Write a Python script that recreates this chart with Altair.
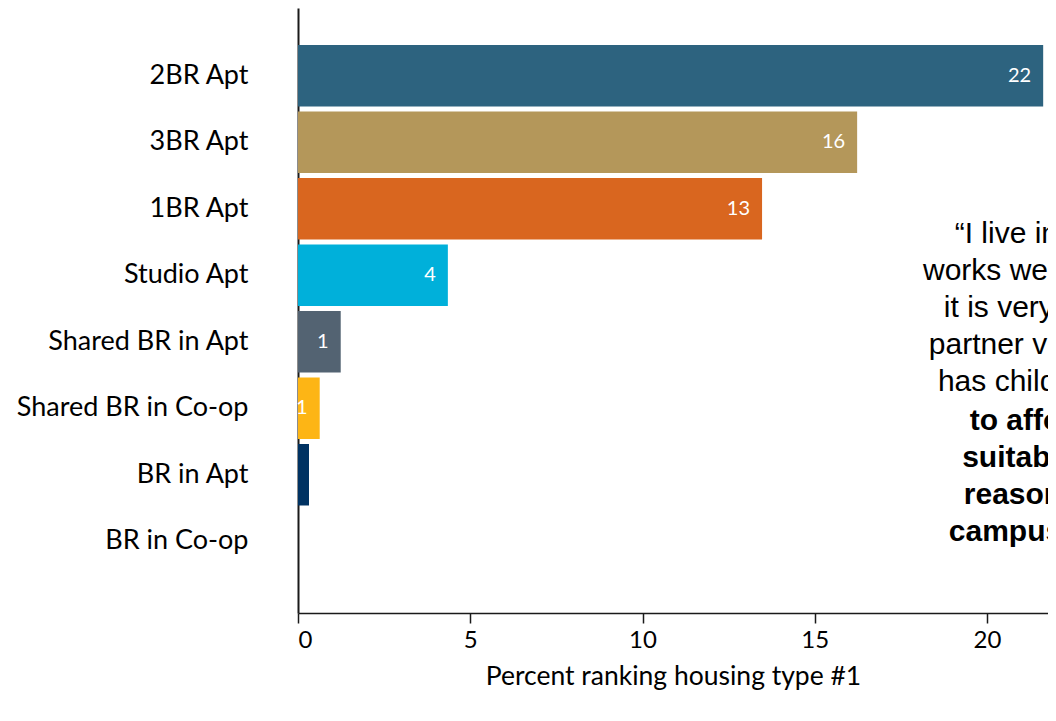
import altair as alt
import pandas as pd

categories = ["2BR Apt", "3BR Apt", "1BR Apt", "Studio Apt", "Shared BR in Apt",
              "Shared BR in Co-op", "BR in Apt", "BR in Co-op"]
values = [21.63, 16.23, 13.47, 4.35, 1.24, 0.63, 0.32, 0.0]
labels = ["22", "16", "13", "4", "1", "1", "", ""]
colors = ["#2D637F", "#B4975A", "#D9661F", "#00B0DA", "#536372", "#FDB515", "#003262", "#DDD5C7"]

quote_regular = ["\u201cI live in a flat", "works well for me,", "it is very pricey",
                 "partner visits and", "has children, so"]
quote_bold = ["to afford a", "suitable for", "reasonable", "campus life.\u201d"]

x_ticks = [0, 5, 10, 15, 20]
x_max = 21.77

df = pd.DataFrame({"cat": categories, "val": values, "lab": labels})

y_enc = alt.Y("cat:N", sort=categories,
              scale=alt.Scale(paddingInner=0.075, paddingOuter=0.586, align=0.474),
              axis=alt.Axis(title=None, ticks=False, labelFont="Lato", labelFontSize=27,
                            labelColor="black", labelPadding=50, labelLimit=400,
                            domainColor="#1a1a1a", domainWidth=2))
x_enc = alt.X("val:Q", scale=alt.Scale(domain=[0, x_max], nice=False, zero=True),
              axis=alt.Axis(title="Percent ranking housing type #1", values=x_ticks,
                            grid=False, tickSize=10, tickColor="#1a1a1a", tickWidth=1.5,
                            domainColor="#1a1a1a", domainWidth=1.5,
                            labelFont="Lato", labelFontSize=24, labelColor="black",
                            labelPadding=5, titleFont="Lato", titleFontSize=26.5,
                            titleFontWeight="normal", titleColor="black", titlePadding=11))

base = alt.Chart(df)
bars = base.mark_bar().encode(
    x=x_enc, y=y_enc,
    color=alt.Color("cat:N", scale=alt.Scale(domain=categories, range=colors), legend=None),
)
texts = base.mark_text(align="right", baseline="middle", dx=-12, color="white",
                       font="Lato", fontSize=20).encode(
    x=alt.X("val:Q"), y=alt.Y("cat:N", sort=categories), text="lab:N")

q1 = alt.Chart(pd.DataFrame({"t": ["\n".join(quote_regular)]})).mark_text(
    align="center", baseline="alphabetic", lineBreak="\n", lineHeight=37,
    font="Liberation Sans", fontSize=30, color="black").encode(
    x=alt.value(745), y=alt.value(235), text="t:N")
q2 = alt.Chart(pd.DataFrame({"t": ["\n".join(quote_bold)]})).mark_text(
    align="center", baseline="alphabetic", lineBreak="\n", lineHeight=37,
    font="Liberation Sans", fontSize=30, fontWeight="bold", color="black").encode(
    x=alt.value(745), y=alt.value(422), text="t:N")

chart = alt.layer(bars, texts, q1, q2).properties(
    width=750, height=605,
    autosize=alt.AutoSizeParams(type="none"),
    padding={"left": 290, "top": 0, "right": 0, "bottom": 95},
    background="white",
).configure_view(stroke=None)

chart.save("out.html", embed_options={"renderer": "svg", "actions": False})
